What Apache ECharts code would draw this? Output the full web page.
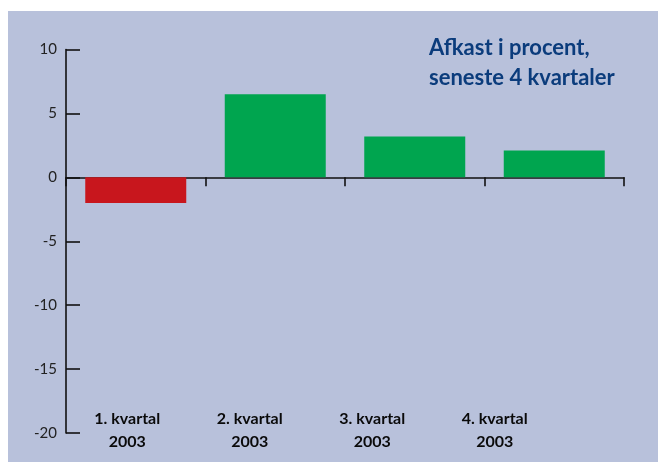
<!DOCTYPE html>
<html>
<head>
<meta charset="utf-8">
<script src="https://cdn.jsdelivr.net/npm/echarts@6/dist/echarts.min.js"></script>
<style>
  html, body { margin: 0; padding: 0; background: #ffffff; width: 658px; height: 462px; overflow: hidden; }
  #chart { position: absolute; left: 8px; top: 11px; width: 650px; height: 451px; }
</style>
</head>
<body>
<div id="chart"></div>
<script>
// Quarterly return in percent, last four quarters
const categories = ['1. kvartal\n2003', '2. kvartal\n2003', '3. kvartal\n2003', '4. kvartal\n2003'];
const returns = [-2.0, 6.5, 3.2, 2.1];
const yTicks = { min: -20, max: 10, interval: 5 };
const titleText = 'Afkast i procent,\nseneste 4 kvartaler';

const RED = '#c8161d';
const GREEN = '#00a54f';
const AXIS = '#111111';
const FONT = 'Lato, "Open Sans", sans-serif';

const chart = echarts.init(document.getElementById('chart'), null, { renderer: 'canvas' });

chart.setOption({
  backgroundColor: '#b8c1db',
  animation: false,
  title: {
    text: titleText,
    left: 421,
    top: 22,
    padding: 0,
    textStyle: {
      fontFamily: FONT,
      fontSize: 22,
      fontWeight: 'bold',
      color: '#0b3c7c',
      lineHeight: 30
    }
  },
  grid: [
    { left: 58, right: 34, top: 38.5, bottom: 29 },
    // label strip for the quarter names
    { left: 58, right: 102, top: 38.5, bottom: 55 }
  ],
  xAxis: [
    {
      type: 'category',
      gridIndex: 0,
      data: categories,
      axisLine: { onZero: true, lineStyle: { color: AXIS, width: 1.6 } },
      axisTick: { show: true, length: 9, lineStyle: { color: AXIS, width: 1.6 } },
      axisLabel: { show: false },
      splitLine: { show: false }
    },
    {
      type: 'category',
      gridIndex: 1,
      data: categories,
      axisLine: { show: false },
      axisTick: { show: false },
      axisLabel: {
        show: true,
        margin: 0,
        fontFamily: FONT,
        fontSize: 16,
        fontWeight: 'bold',
        color: '#0a0a0a',
        lineHeight: 23,
        align: 'center'
      }
    }
  ],
  yAxis: [
    {
      type: 'value',
      gridIndex: 0,
      min: yTicks.min,
      max: yTicks.max,
      interval: yTicks.interval,
      axisLine: { show: true, onZero: false, lineStyle: { color: AXIS, width: 1.6 } },
      axisTick: { show: true, inside: true, length: 14, lineStyle: { color: AXIS, width: 1.6 } },
      axisLabel: { margin: 9, fontFamily: FONT, fontSize: 15, color: '#222222' },
      splitLine: { show: false }
    },
    { type: 'value', gridIndex: 1, show: false, min: 0, max: 1 }
  ],
  series: [
    {
      type: 'bar',
      xAxisIndex: 0,
      yAxisIndex: 0,
      barCategoryGap: '27.6%',
      data: returns.map(v => ({ value: v, itemStyle: { color: v < 0 ? RED : GREEN } })),
      label: { show: false }
    }
  ]
});
</script>
</body>
</html>
